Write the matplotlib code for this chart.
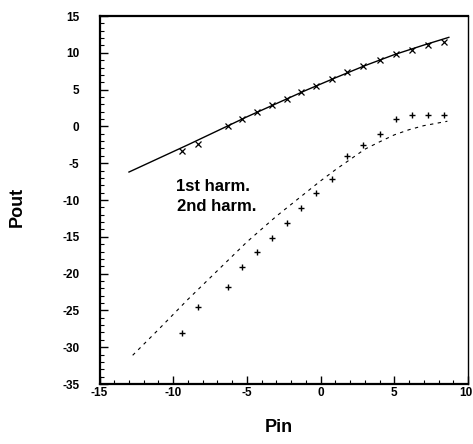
import matplotlib
matplotlib.use("Agg")
import matplotlib.pyplot as plt
import matplotlib.transforms as mtransforms
from matplotlib.ticker import MultipleLocator

# Measured input power sweep (dBm), shared by both harmonics
pin = [-9.4, -8.3, -6.3, -5.3, -4.3, -3.3, -2.3, -1.3, -0.3,
       0.8, 1.8, 2.9, 4.0, 5.1, 6.2, 7.3, 8.4]

# Measured output power, fundamental (1st harmonic)
pout_h1 = [-3.4, -2.4, 0.1, 1.0, 1.9, 2.85, 3.75, 4.65, 5.55,
           6.45, 7.4, 8.25, 9.0, 9.8, 10.4, 11.1, 11.45]

# Measured output power, 2nd harmonic
pout_h2 = [-28.1, -24.6, -21.8, -19.1, -17.1, -15.1, -13.1, -11.1, -9.05,
           -7.1, -4.05, -2.5, -1.1, 0.95, 1.5, 1.6, 1.5]

# Simulated curves
sim_pin_h1 = [-13.0, -11.0, -9.0, -7.0, -5.0, -3.0, -1.0, 1.0, 3.0, 5.0, 7.0, 8.7]
sim_h1 = [-6.2, -4.35, -2.5, -0.6, 1.3, 3.1, 4.9, 6.6, 8.25, 9.75, 11.05, 12.1]

sim_pin_h2 = [-12.75, -11.0, -9.0, -7.0, -5.0, -3.0, -1.0, 0.0, 1.0, 2.0,
              3.0, 4.0, 5.0, 6.0, 7.0, 8.6]
sim_h2 = [-31.1, -27.6, -23.5, -19.6, -15.7, -12.2, -9.0, -7.4, -5.9, -4.5,
          -3.1, -2.1, -1.15, -0.45, 0.1, 0.7]

labels = ["1st harm.", "2nd harm."]
xticks = [-15, -10, -5, 0, 5, 10]
yticks = [15, 10, 5, 0, -5, -10, -15, -20, -25, -30, -35]

FONT = "Liberation Sans"

fig = plt.figure(figsize=(4.73, 4.44), dpi=100)
ax = fig.add_axes([99.5 / 473, 1 - 384 / 444, (468 - 99.5) / 473, 368 / 444])

ax.plot(sim_pin_h1, sim_h1, color="black", lw=1.0)
ax.plot(sim_pin_h2, sim_h2, color="black", lw=0.8, linestyle=(0, (3, 4)))
ax.plot(pin, pout_h1, linestyle="none", marker="x", ms=5, mew=0.9, color="black")
ax.plot(pin, pout_h2, linestyle="none", marker="+", ms=5, mew=1.0, color="black")

ax.text(-9.8, -8.2, labels[0], fontsize=12, fontweight="bold", family=FONT,
        va="center", ha="left")
ax.text(-9.75, -10.85, labels[1], fontsize=12, fontweight="bold", family=FONT,
        va="center", ha="left")

ax.set_xlim(-15, 10)
ax.set_ylim(-35, 15)
ax.set_xticks(xticks)
ax.set_yticks(yticks)
ax.set_xticklabels([str(v) for v in xticks])
ax.set_yticklabels([str(v) for v in yticks])
ax.xaxis.set_minor_locator(MultipleLocator(1))
ax.yaxis.set_minor_locator(MultipleLocator(1))

ax.tick_params(axis="both", which="both", direction="in", top=False, right=False,
               colors="black")
ax.tick_params(axis="both", which="major", length=6, width=1.0)
ax.tick_params(axis="both", which="minor", length=3, width=0.8)
ax.tick_params(axis="x", which="major", pad=2)
ax.tick_params(axis="y", which="major", pad=14.5)

for lab in ax.get_xticklabels() + ax.get_yticklabels():
    lab.set_fontfamily(FONT)
    lab.set_fontweight("bold")
    lab.set_fontsize(8.5)

# keep the last x label inside the figure edge
last = ax.get_xticklabels()[-1]
last.set_horizontalalignment("right")
last.set_transform(last.get_transform() +
                   mtransforms.ScaledTranslation(4 / 100, 0, fig.dpi_scale_trans))

for side in ["left", "bottom", "top"]:
    ax.spines[side].set_linewidth(1.6)
ax.spines["right"].set_linewidth(1.0)

fig.text(279 / 473, 1 - 427 / 444, "Pin", fontsize=13, fontweight="bold",
         family=FONT, ha="center", va="center")
fig.text(17 / 473, 1 - 207 / 444, "Pout", fontsize=13, fontweight="bold",
         family=FONT, ha="center", va="center", rotation=90)

fig.savefig("out.png", dpi=100)
